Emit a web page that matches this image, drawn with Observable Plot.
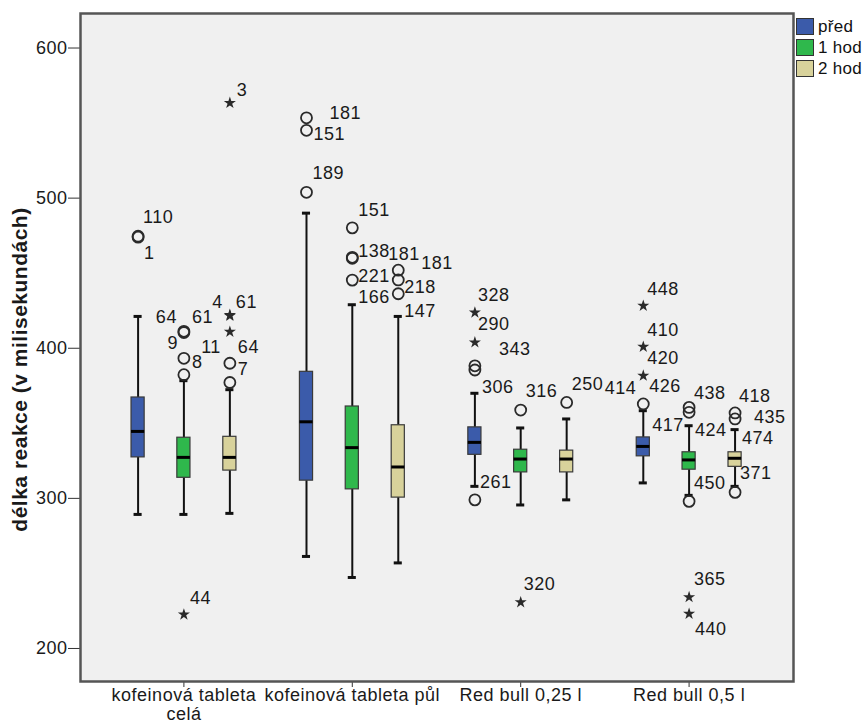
<!DOCTYPE html>
<html>
<head>
<meta charset="utf-8">
<script src="https://cdn.jsdelivr.net/npm/d3@7"></script>
<script src="https://cdn.jsdelivr.net/npm/@observablehq/plot@0.6"></script>
<style>
  body { margin: 0; background: #fff; font-family: "Liberation Sans", Arial, sans-serif; }
  #wrap { position: relative; width: 864px; height: 726px; overflow: hidden; }
  #chart svg { letter-spacing: 0.5px; }
  #legend { position: absolute; left: 796px; top: 16px; font-size: 17px; color: #111; letter-spacing: 0.3px; }
  .item { display: flex; align-items: center; height: 21px; white-space: nowrap; }
  .sw { width: 16px; height: 15px; border: 1px solid #333; margin-right: 4px; flex: none; }
</style>
</head>
<body>
<div id="wrap"><div id="chart"></div><div id="legend"></div></div>
<script>
// ---------- data ----------
const groups = ["kofeinová tableta celá", "kofeinová tableta půl", "Red bull 0,25 l", "Red bull 0,5 l"];
const groupTickLabels = ["kofeinová tableta\ncelá", "kofeinová tableta půl", "Red bull 0,25 l", "Red bull 0,5 l"];
const conditions = ["před", "1 hod", "2 hod"];
const conditionColors = ["#3B5BAA", "#2FB84C", "#D8D29B"];
const yTicks = [200, 300, 400, 500, 600];
const yLabel = "délka reakce (v milisekundách)";

// box summaries, order: group 0..3, each with před, 1 hod, 2 hod
const boxGroup = [0,0,0, 1,1,1, 2,2,2, 3,3,3];
const boxCond  = [0,1,2, 0,1,2, 0,1,2, 0,1,2];
const whiskerLow  = [289.3, 289.3, 290.0,  261.3, 247.3, 257.0,  308.0, 295.6, 299.0,  310.3, 302.0, 308.0];
const quartile1   = [327.3, 313.7, 318.5,  311.8, 306.0, 300.5,  329.0, 317.3, 317.3,  328.0, 319.1, 321.0];
const medians     = [344.6, 327.3, 327.3,  351.0, 333.8, 320.9,  337.3, 326.2, 326.2,  334.6, 325.6, 326.7];
const quartile3   = [367.2, 340.4, 341.0,  384.3, 361.2, 348.7,  347.3, 332.4, 331.8,  340.6, 330.7, 330.7];
const whiskerHigh = [421.2, 378.4, 372.4,  490.0, 429.0, 421.2,  370.0, 346.9, 352.9,  358.4, 348.4, 345.8];

// outliers ("o" = circle, "*" = extreme)
const outGroup = [0,0, 0,0,0,0, 0, 0,0,0,0,0,0,
                  1,1,1, 1,1,1,1, 1,1,1,
                  2,2,2,2,2, 2,2, 2,
                  3,3,3,3, 3,3,3,3,3, 3,3,3];
const outCond  = [0,0, 1,1,1,1, 1, 2,2,2,2,2,2,
                  0,0,0, 1,1,1,1, 2,2,2,
                  0,0,0,0,0, 1,1, 2,
                  0,0,0,0, 1,1,1,1,1, 2,2,2];
const outValue = [474.6,474.0, 410.5,411.3,393.3,382.4, 222.6, 563.4,421.6,422.2,411.0,390.0,377.2,
                  553.5,545.2,503.9, 480.2,459.9,460.6,445.4, 452.0,445.5,436.3,
                  423.8,403.9,388.3,385.5,299.0, 358.8,230.8, 363.9,
                  428.3,401.0,381.7,362.9, 360.6,357.3,298.0,234.2,223.1, 356.9,352.9,304.0];
const outType  = ["o","o", "o","o","o","o", "*", "*","*","*","*","o","o",
                  "o","o","o", "o","o","o","o", "o","o","o",
                  "*","*","o","o","o", "o","*", "o",
                  "*","*","*","o", "o","o","o","*","*", "o","o","o"];

// case labels of outliers, attached to an outlier value
const labGroup = [0,0,0,0,0,0,0,0,0,0,0,0,0,
                  1,1,1,1,1,1,1,1,1,1,1,
                  2,2,2,2,2,2,2,2,
                  3,3,3,3,3,3,3,3,3,3,3,3,3,3,3];
const labCond  = [0,0,1,1,1,1,1,2,2,2,2,2,2,
                  0,0,0,1,1,1,1,2,2,2,2,
                  0,0,0,0,0,1,1,2,
                  0,0,0,0,0,0,1,1,1,1,1,2,2,2,2];
const labValue = [474.6,474.6,410.5,410.5,410.5,393.3,222.6,563.4,421.6,421.6,411.0,411.0,390.0,
                  553.5,545.2,503.9,480.2,459.9,445.4,445.4,452.0,452.0,436.3,436.3,
                  423.8,403.9,388.3,385.5,299.0,358.8,230.8,363.9,
                  428.3,401.0,401.0,381.7,381.7,362.9,360.6,357.3,298.0,234.2,223.1,356.9,352.9,352.9,304.0];
const labText  = ["110","1","64","61","9","8","44","3","4","61","11","64","7",
                  "181","151","189","151","138","221","166","181","181","218","147",
                  "328","290","343","306","261","316","320","250",
                  "448","410","420","426","414","417","438","424","450","365","440","418","435","474","371"];
// label placement relative to its point: [dx, dy, anchor]
const labPlace = [[5,-19,"start"],[6,17,"start"],[-7,-15,"end"],[8,-15,"start"],[-6,11,"end"],[8,4,"start"],[6,-16,"start"],[7,-13,"start"],[-7,-14,"end"],[6,-14,"start"],[-9,15,"end"],[8,15,"start"],[8,6,"start"],
                  [23,-5,"start"],[7,4,"start"],[6,-19,"start"],[6,-18,"start"],[6,-7,"start"],[6,-4,"start"],[6,17,"start"],[-10,-16,"start"],[23,-7,"start"],[6,-7,"start"],[6,17,"start"],
                  [3,-17,"start"],[3,-18,"start"],[24,-17,"start"],[7,17,"start"],[5,-18,"start"],[5,-19,"start"],[3,-18,"start"],[5,-18,"start"],
                  [4,-17,"start"],[4,-17,"start"],[4,11,"start"],[6,11,"start"],[-7,13,"end"],[9,21,"start"],[5,-14,"start"],[6,18,"start"],[5,-18,"start"],[5,-18,"start"],[6,15,"start"],[4,-17,"start"],[19,-2,"start"],[7,19,"start"],[5,-19,"start"]];

// ---------- layout helpers ----------
const condOffset = [-0.272, 0, 0.273]; // position of each condition inside a group (group units)
const boxHalf = 0.039, capHalf = 0.024;
const xPos = (g, c) => g + condOffset[c];

const boxes = boxGroup.map((g, i) => ({
  g, c: boxCond[i], cond: conditions[boxCond[i]], x: xPos(g, boxCond[i]),
  lo: whiskerLow[i], q1: quartile1[i], med: medians[i], q3: quartile3[i], hi: whiskerHigh[i]
}));
const outliers = outGroup.map((g, i) => ({x: xPos(g, outCond[i]), v: outValue[i], type: outType[i]}));
const labels = labGroup.map((g, i) => ({x: xPos(g, labCond[i]), v: labValue[i], t: labText[i], p: labPlace[i]}));

const font = "Liberation Sans, Arial, sans-serif";
const ink = "#1a1a1a";
const fs = 18;

const chart = Plot.plot({
  width: 864,
  height: 726,
  marginLeft: 80,
  marginRight: 71,
  marginTop: 13,
  marginBottom: 45,
  style: {fontFamily: font, fontSize: fs + "px", color: ink, background: "transparent"},
  x: {domain: [-0.614, 3.62], axis: null},
  y: {domain: [178, 623], axis: null},
  color: {domain: conditions, range: conditionColors},
  marks: [
    Plot.frame({fill: "#F0F0F0"}),
    Plot.axisY({ticks: yTicks, tickSize: 12, tickPadding: 1, fontSize: fs, stroke: "#333", fill: ink, label: null}),
    Plot.axisX({ticks: [0, 1, 2, 3], tickFormat: i => groupTickLabels[i], tickSize: 6, tickPadding: 0,
                fontSize: fs, lineHeight: 1.05, stroke: "#333", fill: ink, label: null}),
    Plot.text([yLabel], {frameAnchor: "left", textAnchor: "middle", rotate: -90, dx: -60, dy: 22,
                         fontWeight: "bold", fontSize: 21, fill: ink, ariaLabel: "y-title"}),
    // whiskers
    Plot.ruleX(boxes, {x: "x", y1: "lo", y2: "q1", stroke: "#111", strokeWidth: 2}),
    Plot.ruleX(boxes, {x: "x", y1: "q3", y2: "hi", stroke: "#111", strokeWidth: 2}),
    Plot.ruleY(boxes, {y: "lo", x1: d => d.x - capHalf, x2: d => d.x + capHalf, stroke: "#111", strokeWidth: 3}),
    Plot.ruleY(boxes, {y: "hi", x1: d => d.x - capHalf, x2: d => d.x + capHalf, stroke: "#111", strokeWidth: 3}),
    // boxes
    Plot.rect(boxes, {x1: d => d.x - boxHalf, x2: d => d.x + boxHalf, y1: "q1", y2: "q3", fill: "cond", stroke: "#3a3a3a", strokeWidth: 1.2}),
    Plot.ruleY(boxes, {y: "med", x1: d => d.x - boxHalf, x2: d => d.x + boxHalf, stroke: "#000", strokeWidth: 3}),
    // outliers
    Plot.dot(outliers.filter(d => d.type === "o"), {x: "x", y: "v", r: 5.5, stroke: "#2a2a2a", strokeWidth: 1.8, fill: "none"}),
    Plot.dot(outliers.filter(d => d.type === "*"), {x: "x", y: "v", symbol: "star", r: 3.8, fill: "#2a2a2a", stroke: "none"}),
    // case labels
    ...labels.map(l => Plot.text([l], {x: "x", y: "v", text: "t", dx: l.p[0], dy: l.p[1], textAnchor: l.p[2], fontSize: fs, fill: ink})),
    Plot.frame({stroke: "#555", strokeWidth: 2.5})
  ]
});
d3.select(chart).selectAll('g[aria-label="y-title"] text').attr("letter-spacing", "2.2px");
document.getElementById("chart").appendChild(chart);

// legend
const legend = document.getElementById("legend");
conditions.forEach((c, i) => {
  const item = document.createElement("div");
  item.className = "item";
  const sw = document.createElement("span");
  sw.className = "sw";
  sw.style.background = conditionColors[i];
  const tx = document.createElement("span");
  tx.textContent = c;
  item.appendChild(sw);
  item.appendChild(tx);
  legend.appendChild(item);
});
</script>
</body>
</html>
